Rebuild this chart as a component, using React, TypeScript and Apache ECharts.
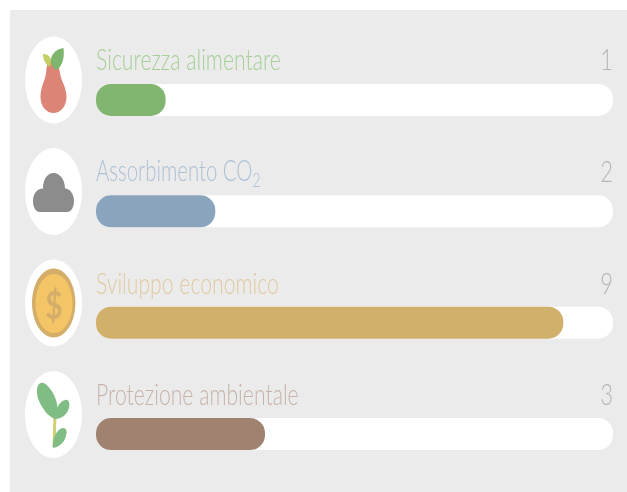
import React, { useEffect, useRef } from "react";
import * as echarts from "echarts";

const categories = ["Sicurezza alimentare", "Assorbimento CO{sub|2}", "Sviluppo economico", "Protezione ambientale"];
const values = [1, 2, 9, 3];
const barColors = ["#82b56f", "#8aa4bd", "#d1b06b", "#a08271"];
const textColors = ["#a6cf98", "#adc1d5", "#e0caa0", "#c7b3a9"];
const labelY = [58.5, 170.5, 282.5, 393.5];
const labelScaleX = [0.963, 0.925, 0.963, 0.963];
const circleY = [80, 191.5, 303, 414.5];
const AXIS_MIN = -0.4;
const AXIS_MAX = 10;

echarts.graphic.registerShape("pear", echarts.graphic.extendPath("M52 60 C57 60 59 66 60 73 C61 81 66.5 87 66.5 97 C66.5 107 60 113 53.5 113 C47 113 40.5 107 40.5 97 C40.5 87 45 81 46 73 C47 66 47 60 52 60 Z", {}));
echarts.graphic.registerShape("leafBig", echarts.graphic.extendPath("M63.5 48 C55 49 50 56 51 62 C52 66 54 69 56.5 70 C61 67 65 60 63.5 48 Z", {}));
echarts.graphic.registerShape("leafSmall", echarts.graphic.extendPath("M43 54 C47 54 50 56 51 60 L50 67 C46 65 43 60 43 54 Z", {}));
echarts.graphic.registerShape("cloud", echarts.graphic.extendPath("M40 212 C35.5 212 33 207 33 201 C33 194 37 188.5 43 188.5 C43 180 47 173 53.5 173 C60 173 65 180 65 188.5 C70 188.5 74 194 74 201 C74 207 71.5 212 67 212 Z", {}));
echarts.graphic.registerShape("sprout1", echarts.graphic.extendPath("M41 383 C36 384 36 394 39 401 C43 410 49 417 55 419 C59 412 58 402 53 393 C49 387 45 382 41 383 Z", {}));
echarts.graphic.registerShape("sprout2", echarts.graphic.extendPath("M55 419 C55 411 58 402 65 400 C69 399 70 404 69 408 C67 415 61 419 55 419 Z", {}));
echarts.graphic.registerShape("sprout3", echarts.graphic.extendPath("M53 448 C52 440 56 429 63 428 C67 428 67 432 66 436 C64 443 59 447 53 448 Z", {}));

const FONT = "Lato, 'Open Sans', sans-serif";

const renderBar = (params: any, api: any) => {
  const cat = api.value(1);
  const start = api.coord([AXIS_MIN, cat]);
  const end = api.coord([api.value(0), cat]);
  return {
    type: "rect",
    shape: { x: start[0], y: start[1] - 16, width: end[0] - start[0], height: 32, r: 15 },
    style: { fill: api.visual("color") },
  };
};

export default function App() {
  const ref = useRef<HTMLDivElement>(null);
  useEffect(() => {
    const chart = echarts.init(ref.current!, null, { renderer: "svg" });
    chart.setOption({
      animation: false,
      backgroundColor: "#ffffff",
      grid: { left: 96, top: 44.3, width: 517, height: 445.4 },
      xAxis: { type: "value", min: AXIS_MIN, max: AXIS_MAX, show: false },
      yAxis: { type: "category", inverse: true, data: categories, show: false },
      series: [
        {
          type: "custom",
          renderItem: renderBar,
          encode: { x: 0, y: 1 },
          data: values.map((_, i) => ({ value: [AXIS_MAX, i], itemStyle: { color: "#ffffff" } })),
          z: 2,
        },
        {
          type: "custom",
          renderItem: renderBar,
          encode: { x: 0, y: 1 },
          data: values.map((v, i) => ({ value: [v, i], itemStyle: { color: barColors[i] } })),
          z: 3,
        },
      ],
      graphic: [
        { type: "rect", z: -5, shape: { x: 10, y: 10, width: 617, height: 482 }, style: { fill: "#ebebeb" } },
        ...circleY.map((cy) => ({ type: "ellipse", z: -4, shape: { cx: 53.5, cy, rx: 28.5, ry: 43.5 }, style: { fill: "#ffffff" } })),
        ...categories.map((c, i) => ({
          type: "text", z: 5, x: 96, y: labelY[i], scaleX: labelScaleX[i], scaleY: 1.3,
          style: {
            text: c, fill: textColors[i], fontFamily: FONT, fontWeight: 300, fontSize: 22,
            verticalAlign: "middle", align: "left",
            rich: { sub: { fontSize: 15, fontWeight: 300, fontFamily: FONT, fill: textColors[i], padding: [14, 0, 0, 0] } },
          },
        })),
        ...values.map((v, i) => ({
          type: "text", z: 5, x: 613, y: labelY[i], scaleY: 1.3,
          style: { text: String(v), fill: "#b5b5b5", fontFamily: FONT, fontWeight: 300, fontSize: 22, align: "right", verticalAlign: "middle" },
        })),
        { type: "pear", z: 5, style: { fill: "#dc8576" } },
        { type: "leafSmall", z: 5, style: { fill: "#c3cf62" } },
        { type: "leafBig", z: 6, style: { fill: "#7db56e" } },
        { type: "cloud", z: 5, style: { fill: "#8c8c8c" } },
        { type: "ellipse", z: 5, shape: { cx: 53.7, cy: 303, rx: 21.7, ry: 34.5 }, style: { fill: "#d4ae69" } },
        { type: "ellipse", z: 6, shape: { cx: 54, cy: 303.5, rx: 18.5, ry: 29.5 }, style: { fill: "#f4c566" } },
        { type: "text", z: 7, x: 54, y: 304, scaleY: 1.3, style: { text: "$", fill: "#d4ae69", fontFamily: FONT, fontWeight: 700, fontSize: 30, align: "center", verticalAlign: "middle" } },
        { type: "line", z: 5, shape: { x1: 55, y1: 415, x2: 54, y2: 447 }, style: { stroke: "#cfcf75", lineWidth: 3 } },
        { type: "sprout1", z: 6, style: { fill: "#7fbd85" } },
        { type: "sprout2", z: 6, style: { fill: "#7fbd85" } },
        { type: "sprout3", z: 6, style: { fill: "#7fbd85" } },
      ],
    });
    return () => chart.dispose();
  }, []);
  return <div ref={ref} style={{ position: "absolute", left: 0, top: 0, width: 627, height: 492, filter: "blur(0.5px)" }} />;
}
